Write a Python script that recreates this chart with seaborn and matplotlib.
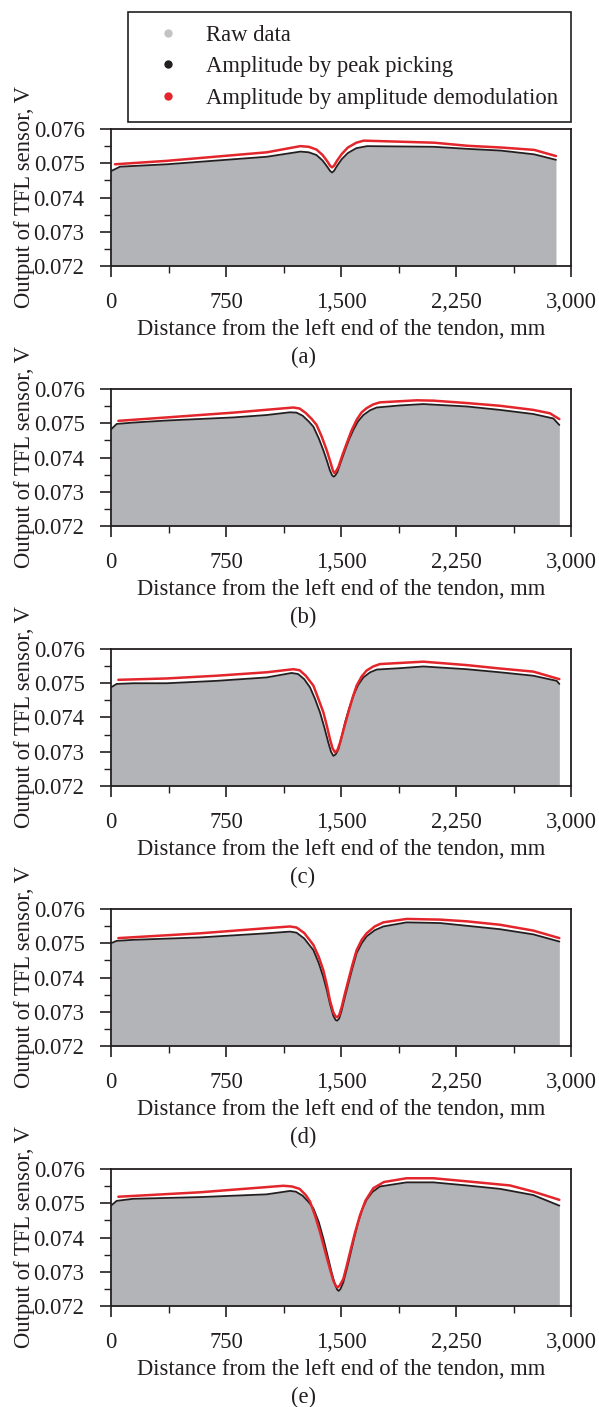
import matplotlib
matplotlib.use("Agg")
import matplotlib.pyplot as plt
from matplotlib.lines import Line2D
from matplotlib.ticker import MultipleLocator, FixedLocator, FuncFormatter
import seaborn as sns
import pandas as pd

# ---- TFL sensor output along the tendon (mm, V) ----
# (a)
xa_peak = [0, 59, 364, 1017, 1235, 1290, 1340, 1380, 1410, 1430, 1442, 1455, 1475, 1505, 1545, 1600, 1671,
           2107, 2325, 2542, 2760, 2902]
va_peak = [0.07477, 0.07490, 0.07497, 0.07519, 0.07534, 0.07532, 0.07524, 0.07508, 0.07490, 0.07477,
           0.07473, 0.07478, 0.07493, 0.07512, 0.07530, 0.07544, 0.07550, 0.07548, 0.07542, 0.07537,
           0.07526, 0.07510]
xa_demod = [26, 364, 1017, 1235, 1290, 1340, 1380, 1410, 1430, 1442, 1455, 1475, 1505, 1545, 1600, 1649,
            2107, 2325, 2542, 2760, 2902]
va_demod = [0.07497, 0.07507, 0.07532, 0.07550, 0.07548, 0.07540, 0.07524, 0.07506, 0.07492, 0.07488,
            0.07493, 0.07508, 0.07527, 0.07546, 0.07560, 0.07566, 0.07560, 0.07551, 0.07546, 0.07539,
            0.07521]

# (b)
xb_peak = [0, 37, 146, 363, 798, 1015, 1167, 1210, 1250, 1290, 1320, 1355, 1385, 1410, 1428, 1442, 1452,
           1462, 1476, 1500, 1526, 1552, 1580, 1610, 1646, 1690, 1733, 1885, 2037, 2320, 2537, 2754,
           2885, 2924]
vb_peak = [0.07482, 0.07498, 0.07502, 0.07508, 0.07517, 0.07524, 0.07532, 0.07531, 0.07522, 0.07505,
           0.07490, 0.07456, 0.07421, 0.07388, 0.07362, 0.07348, 0.07344, 0.07347, 0.07357, 0.07388,
           0.07421, 0.07452, 0.07480, 0.07505, 0.07524, 0.07538, 0.07546, 0.07552, 0.07556, 0.07549,
           0.07539, 0.07527, 0.07514, 0.07495]
xb_demod = [48, 363, 798, 1189, 1230, 1270, 1310, 1341, 1375, 1407, 1432, 1447, 1457, 1468, 1483, 1510,
            1537, 1570, 1602, 1635, 1667, 1710, 1754, 1994, 2102, 2320, 2537, 2754, 2863, 2924]
vb_demod = [0.07507, 0.07517, 0.07531, 0.07546, 0.07543, 0.07530, 0.07512, 0.07495, 0.07460, 0.07421,
            0.07385, 0.07362, 0.07354, 0.07360, 0.07372, 0.07408, 0.07441, 0.07480, 0.07510, 0.07532,
            0.07544, 0.07555, 0.07561, 0.07567, 0.07566, 0.07559, 0.07551, 0.07539, 0.07529, 0.07512]

# (c)
xc_peak = [0, 37, 146, 363, 689, 1015, 1178, 1220, 1260, 1298, 1330, 1363, 1392, 1417, 1435, 1450, 1465,
           1483, 1505, 1526, 1552, 1580, 1612, 1646, 1690, 1733, 1885, 2037, 2320, 2537, 2754, 2907, 2924]
vc_peak = [0.07488, 0.07498, 0.07500, 0.07500, 0.07507, 0.07517, 0.07530, 0.07527, 0.07512, 0.07488,
           0.07455, 0.07415, 0.07370, 0.07327, 0.07300, 0.07288, 0.07292, 0.07307, 0.07345, 0.07385,
           0.07425, 0.07463, 0.07495, 0.07517, 0.07532, 0.07540, 0.07544, 0.07549, 0.07541, 0.07532,
           0.07522, 0.07507, 0.07498]
xc_demod = [48, 363, 689, 1015, 1189, 1230, 1270, 1320, 1352, 1385, 1408, 1428, 1445, 1461, 1477, 1494,
            1520, 1548, 1575, 1602, 1635, 1667, 1710, 1754, 2037, 2320, 2537, 2754, 2924]
vc_demod = [0.07510, 0.07514, 0.07522, 0.07532, 0.07541, 0.07538, 0.07522, 0.07493, 0.07455, 0.07415,
            0.07375, 0.07337, 0.07310, 0.07298, 0.07305, 0.07327, 0.07370, 0.07415, 0.07457, 0.07493,
            0.07520, 0.07537, 0.07549, 0.07556, 0.07563, 0.07553, 0.07543, 0.07534, 0.07512]

# (d)
xd_peak = [0, 37, 146, 580, 1015, 1167, 1210, 1260, 1320, 1355, 1385, 1408, 1428, 1450, 1465, 1475, 1488,
           1504, 1525, 1548, 1575, 1602, 1635, 1667, 1720, 1776, 1928, 2146, 2320, 2537, 2754, 2924]
vd_peak = [0.07500, 0.07507, 0.07510, 0.07517, 0.07529, 0.07534, 0.07531, 0.07514, 0.07480, 0.07442,
           0.07401, 0.07362, 0.07323, 0.07288, 0.07276, 0.07274, 0.07280, 0.07303, 0.07342, 0.07382,
           0.07428, 0.07471, 0.07500, 0.07520, 0.07538, 0.07549, 0.07561, 0.07559, 0.07551, 0.07541,
           0.07526, 0.07505]
xd_demod = [48, 580, 1015, 1167, 1210, 1260, 1320, 1355, 1385, 1408, 1428, 1450, 1465, 1475, 1488, 1504,
            1525, 1548, 1575, 1602, 1635, 1667, 1720, 1776, 1928, 2146, 2320, 2537, 2754, 2924]
vd_demod = [0.07515, 0.07529, 0.07544, 0.07549, 0.07546, 0.07530, 0.07495, 0.07460, 0.07421, 0.07378,
            0.07333, 0.07298, 0.07286, 0.07284, 0.07290, 0.07313, 0.07352, 0.07392, 0.07438, 0.07480,
            0.07510, 0.07529, 0.07549, 0.07561, 0.07571, 0.07569, 0.07564, 0.07554, 0.07537, 0.07515]

# (e)
xe_peak = [0, 37, 146, 580, 1015, 1167, 1205, 1250, 1290, 1320, 1355, 1385, 1412, 1439, 1460, 1475, 1485,
           1497, 1515, 1535, 1559, 1585, 1613, 1640, 1667, 1705, 1754, 1928, 2102, 2320, 2537, 2754, 2924]
ve_peak = [0.07493, 0.07507, 0.07513, 0.07518, 0.07526, 0.07536, 0.07534, 0.07522, 0.07503, 0.07485,
           0.07445, 0.07397, 0.07348, 0.07298, 0.07264, 0.07248, 0.07244, 0.07250, 0.07269, 0.07303,
           0.07347, 0.07397, 0.07446, 0.07484, 0.07510, 0.07533, 0.07549, 0.07561, 0.07561, 0.07552,
           0.07542, 0.07524, 0.07493]
xe_demod = [48, 580, 1124, 1180, 1230, 1270, 1298, 1330, 1363, 1395, 1428, 1450, 1465, 1478, 1492, 1515,
            1535, 1559, 1590, 1624, 1660, 1711, 1780, 1928, 2102, 2320, 2602, 2754, 2924]
ve_demod = [0.07519, 0.07532, 0.07551, 0.07549, 0.07542, 0.07524, 0.07505, 0.07465, 0.07416, 0.07362,
            0.07308, 0.07274, 0.07260, 0.07254, 0.07260, 0.07279, 0.07313, 0.07357, 0.07412, 0.07465,
            0.07508, 0.07544, 0.07562, 0.07573, 0.07573, 0.07564, 0.07552, 0.07534, 0.07510]

panel_tags = ["(a)", "(b)", "(c)", "(d)", "(e)"]
series_names = ["Raw data", "Amplitude by peak picking", "Amplitude by amplitude demodulation"]
x_ticks = [0, 750, 1500, 2250, 3000]
y_ticks = [0.072, 0.073, 0.074, 0.075, 0.076]

panels = [
    (xa_peak, va_peak, xa_demod, va_demod),
    (xb_peak, vb_peak, xb_demod, vb_demod),
    (xc_peak, vc_peak, xc_demod, vc_demod),
    (xd_peak, vd_peak, xd_demod, vd_demod),
    (xe_peak, ve_peak, xe_demod, ve_demod),
]

sns.set_style("ticks")
plt.rcParams["font.family"] = ["Liberation Serif", "DejaVu Serif"]
plt.rcParams["font.size"] = 16.3

TXT = "#231f20"
RAW = "#b3b4b7"
RAW_MARK = "#c3c3c6"
PEAK = "#231f20"
DEMOD = "#e3262b"
FS = 16.3

W, H = 599, 1407
fig = plt.figure(figsize=(W / 100, H / 100), dpi=100)

left_px, width_px, height_px = 111, 460, 137
tops_px = [129, 389, 649, 909, 1169]

for i, (xp, vp, xd, vd) in enumerate(panels):
    top = tops_px[i]
    ax = fig.add_axes([left_px / W, 1 - (top + height_px) / H, width_px / W, height_px / H])

    # raw samples: dense band under the peak envelope
    ax.fill_between(xp, 0.072, vp, color=RAW, linewidth=0, zorder=1)

    df_peak = pd.DataFrame({"x": xp, "v": vp})
    df_demod = pd.DataFrame({"x": xd, "v": vd})
    sns.lineplot(data=df_peak, x="x", y="v", ax=ax, color=PEAK, linewidth=1.3,
                 sort=False, estimator=None, zorder=3)
    sns.lineplot(data=df_demod, x="x", y="v", ax=ax, color=DEMOD, linewidth=1.8,
                 sort=False, estimator=None, zorder=4)

    ax.set_xlim(0, 3000)
    ax.set_ylim(0.072, 0.076)
    ax.xaxis.set_major_locator(FixedLocator(x_ticks))
    ax.xaxis.set_minor_locator(MultipleLocator(375))
    ax.yaxis.set_major_locator(FixedLocator(y_ticks))
    ax.yaxis.set_minor_locator(MultipleLocator(0.0005))
    ax.xaxis.set_major_formatter(FuncFormatter(lambda v, p: f"{int(round(v)):,}"))
    ax.yaxis.set_major_formatter(FuncFormatter(lambda v, p: f"{v:.3f}"))

    ax.tick_params(axis="both", which="major", direction="out", length=8, width=1.2,
                   color=TXT, labelcolor=TXT, labelsize=FS, pad=11)
    ax.tick_params(axis="both", which="minor", direction="out", length=5, width=1.0, color=TXT)
    for s in ax.spines.values():
        s.set_visible(True)
        s.set_linewidth(1.3)
        s.set_color(TXT)

    ax.set_xlabel("Distance from the left end of the tendon, mm", fontsize=FS, color=TXT, labelpad=4)
    ax.set_ylabel("Output of TFL sensor, V", fontsize=FS, color=TXT)
    ax.yaxis.set_label_coords(-76 / width_px, 0.5)

    fig.text(303 / W, 1 - (top + height_px + 91) / H, panel_tags[i], ha="center", va="center",
             fontsize=FS, color=TXT)

handles = [
    Line2D([], [], linestyle="none", marker="o", markersize=6, color=RAW_MARK, markeredgewidth=0),
    Line2D([], [], linestyle="none", marker="o", markersize=6, color=PEAK, markeredgewidth=0),
    Line2D([], [], linestyle="none", marker="o", markersize=6, color=DEMOD, markeredgewidth=0),
]
leg = fig.legend(handles, series_names, loc="upper left", bbox_to_anchor=(128 / W, 1 - 12 / H),
                 frameon=True, fancybox=False, framealpha=1, edgecolor=TXT, fontsize=FS,
                 borderpad=0.58, labelspacing=0.45, handlelength=2.4, handletextpad=0.45,
                 borderaxespad=0)
leg.get_frame().set_linewidth(1.2)
for t in leg.get_texts():
    t.set_color(TXT)

fig.savefig("out.png", dpi=100, facecolor="white")
